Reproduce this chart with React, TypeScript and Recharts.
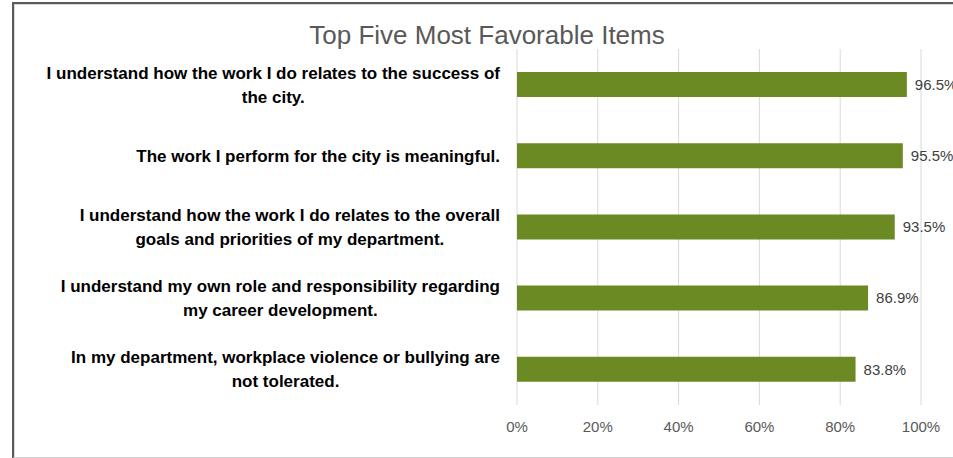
import { BarChart, Bar, XAxis, YAxis, CartesianGrid, LabelList } from "recharts";

const TITLE = "Top Five Most Favorable Items";

const ITEMS = [
  "I understand how the work I do relates to the success of\nthe city.",
  "The work I perform for the city is meaningful.",
  "I understand how the work I do relates to the overall\ngoals and priorities of my department.",
  "I understand my own role and responsibility regarding\nmy career development.",
  "In my department, workplace violence or bullying are\nnot tolerated.",
];

const FAVORABLE = [96.5, 95.5, 93.5, 86.9, 83.8];

const X_TICKS = [0, 20, 40, 60, 80, 100];

const data = ITEMS.map((item, i) => ({ item, value: FAVORABLE[i] }));

const FONT = "'Liberation Sans', Arial, sans-serif";
const LABEL_FONT = `bold 17px ${FONT}`;

let ctx: CanvasRenderingContext2D | null = null;
function textWidth(s: string) {
  if (!ctx) ctx = document.createElement("canvas").getContext("2d");
  if (!ctx) return s.length * 8;
  ctx.font = LABEL_FONT;
  return ctx.measureText(s).width;
}

// Excel-style category label: block is right aligned, lines centred in it
function CategoryTick(props: any) {
  const { x, y, payload } = props;
  const lines = String(payload.value).split("\n");
  const w = Math.max(...lines.map(textWidth));
  const cx = x - w / 2;
  const lh = 24;
  const y0 = y - ((lines.length - 1) * lh) / 2;
  return (
    <text textAnchor="middle" fill="#000" style={{ font: LABEL_FONT }}>
      {lines.map((l, i) => (
        <tspan key={i} x={cx} y={y0 + i * lh} dy="0.35em">
          {l}
        </tspan>
      ))}
    </text>
  );
}

export default function App() {
  return (
    <div
      style={{
        position: "absolute",
        left: 0,
        top: 0,
        width: 953,
        height: 458,
        background: "#fff",
        overflow: "hidden",
      }}
    >
      <div
        style={{
          position: "absolute",
          left: 12,
          top: 2,
          width: 960,
          height: 453,
          borderLeft: "2px solid #5a5a5a",
          borderTop: "2px solid #5a5a5a",
          borderBottom: "2px solid #cfcfcf",
          boxShadow: "inset 1px 1px 0 #d8d8d8",
        }}
      />
      <div
        style={{
          position: "absolute",
          left: 287,
          top: 19,
          width: 400,
          textAlign: "center",
          fontFamily: FONT,
          fontSize: 26,
          lineHeight: "32px",
          color: "#595959",
        }}
      >
        {TITLE}
      </div>
      <BarChart
        width={953}
        height={458}
        data={data}
        layout="vertical"
        margin={{ top: 49, right: 32, bottom: 0, left: 0 }}
        style={{ position: "absolute", left: 0, top: 0 }}
      >
        <CartesianGrid horizontal={false} stroke="#d9d9d9" />
        <XAxis
          type="number"
          domain={[0, 100]}
          ticks={X_TICKS}
          tickFormatter={(v) => `${v}%`}
          axisLine={false}
          tickLine={false}
          tickMargin={10}
          height={53}
          tick={{ fill: "#595959", fontSize: 15, fontFamily: FONT }}
        />
        <YAxis
          type="category"
          dataKey="item"
          width={517}
          interval={0}
          axisLine={false}
          tickLine={false}
          tickSize={0}
          tickMargin={17}
          tick={(p: any) => <CategoryTick {...p} />}
        />
        <Bar dataKey="value" fill="#6B8A23" barSize={25} isAnimationActive={false}>
          <LabelList
            dataKey="value"
            position="right"
            offset={8}
            formatter={(v: any) => `${v}%`}
            fill="#404040"
            fontSize={15}
            fontFamily={FONT}
          />
        </Bar>
      </BarChart>
    </div>
  );
}
